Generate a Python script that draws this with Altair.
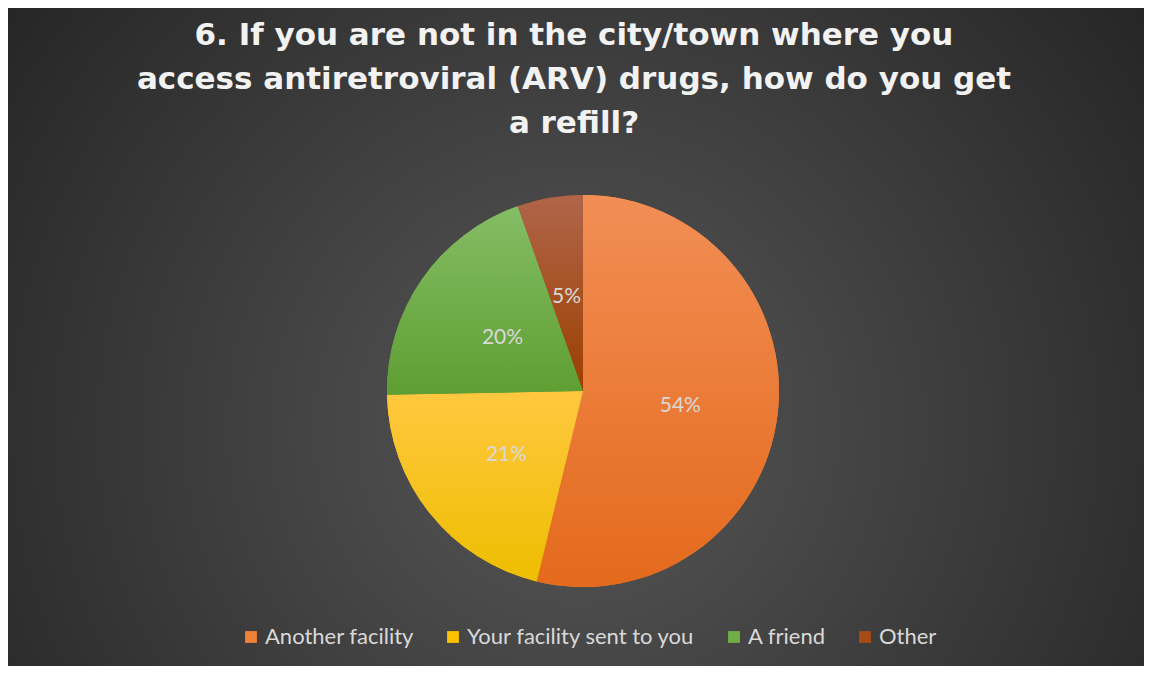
import altair as alt
import pandas as pd

categories = ["Another facility", "Your facility sent to you", "A friend", "Other"]
values = [53.8, 20.9, 19.9, 5.4]
order = [0, 1, 2, 3]
legend_colors = ["#F08238", "#FFC000", "#70AD47", "#A64D17"]
grad_top = ["#F28E55", "#FFC840", "#85BD65", "#B0654A"]
grad_bottom = ["#E46A1C", "#EDBE00", "#5E9E32", "#9C3F00"]
title_lines = [
    "6. If you are not in the city/town where you",
    "access antiretroviral (ARV) drugs, how do you get",
    "a refill?",
]

W, H = 1136, 658
CX, CY, R = 575, 383, 196

df = pd.DataFrame({"category": categories, "value": values, "order": order})


def prep(ch):
    return (
        ch.transform_joinaggregate(total="sum(value)")
        .transform_calculate(frac="datum.value / datum.total")
        .transform_window(cum="sum(frac)", sort=[alt.SortField("order")], frame=[None, 0])
        .transform_calculate(start="datum.cum - datum.frac", mid="datum.cum - datum.frac / 2",
                             label="round(datum.value) + '%'")
    )


theta_scale = alt.Scale(domain=[0, 1])

bg = alt.Chart(alt.Data(values=[{"a": 1}])).mark_rect(
    color=alt.RadialGradient(
        gradient="radial",
        x1=0.5, y1=0.58, r1=0, x2=0.5, y2=0.58, r2=0.62,
        stops=[alt.GradientStop(offset=0, color="#575757"),
               alt.GradientStop(offset=1, color="#262626")],
    )
).encode(x=alt.value(0), x2=alt.value(W), y=alt.value(0), y2=alt.value(H))

base = prep(alt.Chart(df)).mark_arc(outerRadius=R).encode(
    x=alt.value(CX), y=alt.value(CY),
    theta=alt.Theta("start:Q", scale=theta_scale),
    theta2="cum:Q",
    color=alt.Color(
        "category:N",
        scale=alt.Scale(domain=categories, range=legend_colors),
        sort=categories,
        legend=alt.Legend(
            title=None, orient="none", direction="horizontal",
            legendX=232, legendY=618,
            symbolType="square", symbolSize=140, symbolStrokeWidth=0,
            labelFont="Lato", labelFontSize=22, labelColor="#D9D9D9",
            columnPadding=28, labelOffset=3, labelLimit=400,
        ),
    ),
)

overlays = []
for i, c in enumerate(categories):
    overlays.append(
        prep(alt.Chart(df)).transform_filter(alt.datum.category == c).mark_arc(
            outerRadius=R,
            color=alt.LinearGradient(
                gradient="linear", x1=0, y1=0, x2=0, y2=1,
                stops=[alt.GradientStop(offset=0, color=grad_top[i]),
                       alt.GradientStop(offset=1, color=grad_bottom[i])],
            ),
        ).encode(
            x=alt.value(CX), y=alt.value(CY),
            theta=alt.Theta("start:Q", scale=theta_scale),
            theta2="cum:Q",
        )
    )

labels = prep(alt.Chart(df)).mark_text(
    radius=98, font="Lato", fontSize=21, color="#D9D9D9", align="center", baseline="middle", dy=3
).encode(
    x=alt.value(CX), y=alt.value(CY),
    theta=alt.Theta("mid:Q", scale=theta_scale),
    text="label:N",
)

title = alt.Chart(alt.Data(values=[{"a": 1}])).mark_text(
    text=title_lines, font="DejaVu Sans", fontWeight="bold", fontSize=31,
    lineHeight=44, color="#F2F2F2", align="center", baseline="alphabetic",
).encode(x=alt.value(566), y=alt.value(37))

chart = alt.layer(bg, base, *overlays, labels, title).properties(
    width=W, height=H, padding=0, autosize=alt.AutoSizeParams(type="none"),
    background="#2A2A2A",
).configure_view(strokeWidth=0)

chart.save("out.html", embed_options={"renderer": "svg", "actions": False})
